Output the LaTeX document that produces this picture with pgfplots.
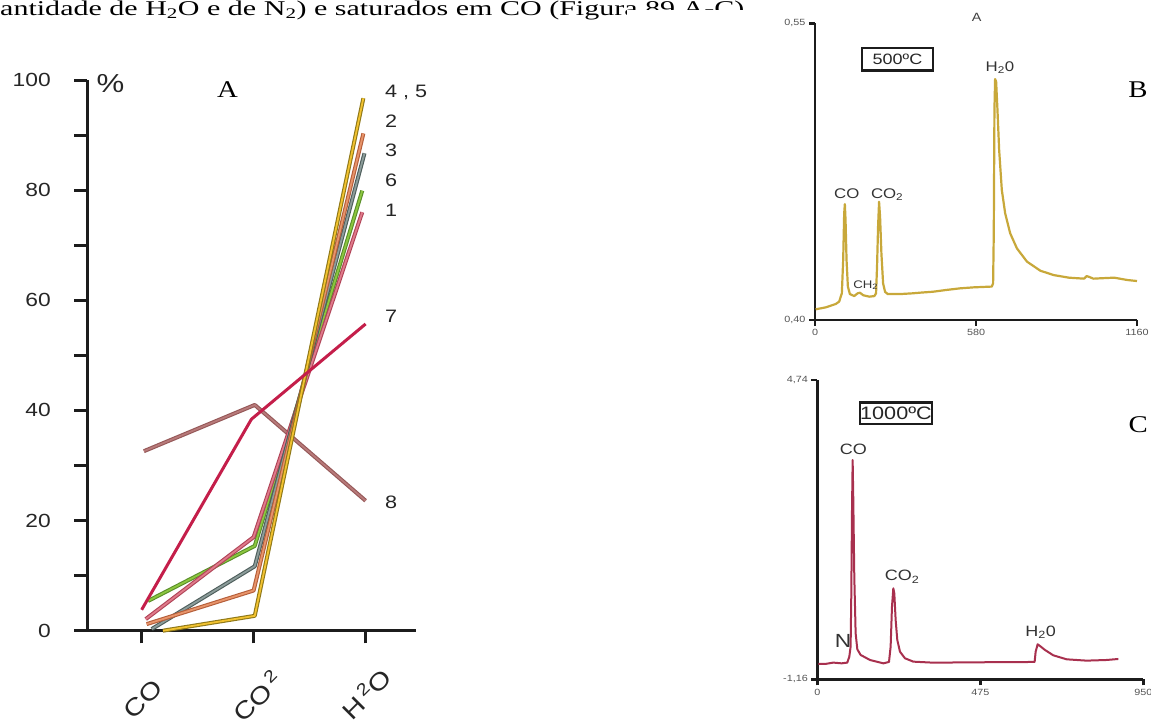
\documentclass[border=0pt]{standalone}
\usepackage{pgfplots}
\pgfplotsset{compat=1.18}
\usepackage{fontspec}
\setmainfont{Liberation Serif}
\newfontfamily\sansx[FakeStretch=1.2]{Liberation Sans}
\newfontfamily\serifx[FakeStretch=1.2]{Liberation Serif}
\newfontfamily\serifwide[FakeStretch=1.43]{Liberation Serif}
\newcommand{\fs}[1]{\fontsize{#1}{#1}\selectfont}

\definecolor{axblack}{HTML}{1C1C1C}
\definecolor{lblgray}{HTML}{555555}
% line colours (core / outline)
\definecolor{yelC}{HTML}{F2C230}\definecolor{yelO}{HTML}{8F7818}
\definecolor{oraC}{HTML}{E8946A}\definecolor{oraO}{HTML}{B45E3A}
\definecolor{gryC}{HTML}{8C9C9A}\definecolor{gryO}{HTML}{4E5E5C}
\definecolor{grnC}{HTML}{8CC63F}\definecolor{grnO}{HTML}{5A8F2A}
\definecolor{pnkC}{HTML}{E07A8A}\definecolor{pnkO}{HTML}{B04458}
\definecolor{brnC}{HTML}{B87A7A}\definecolor{brnO}{HTML}{955858}
\definecolor{crim}{HTML}{C41E4A}
\definecolor{goldB}{HTML}{C8A83A}
\definecolor{maroonC}{HTML}{A8304E}

\tikzset{duo/.style 2 args={draw=#1, line width=1.8pt, line join=round,
  preaction={draw=#2, line width=4pt, line join=round}}}

% fraction of each gas (%)
\pgfplotstableread{
x     y
0.19  0
1.01  2.7
1.98  96.7
}\tabFourFive
\pgfplotstableread{
x     y
0.045 1.2
1.00  7.3
1.98  90.3
}\tabTwo
\pgfplotstableread{
x     y
0.09  0.3
1.01  11.7
1.99  86.7
}\tabThree
\pgfplotstableread{
x     y
0.057 5.4
1.01  15.4
1.97  79.9
}\tabSix
\pgfplotstableread{
x     y
0.036 2.1
1.00  17.0
1.97  76.0
}\tabOne
\pgfplotstableread{
x     y
0.00  3.8
0.98  38.4
2.00  55.7
}\tabSeven
\pgfplotstableread{
x     y
0.02  32.6
1.01  41.0
2.00  23.6
}\tabEight

% chromatogram, 500 C
\pgfplotstableread{
t      s
2.4    0.4054
38.7   0.4064
74.9   0.4081
87.0   0.4093
96.7   0.4135
101.5  0.4303
105.1  0.4539
107.5  0.4586
110.0  0.4506
113.6  0.4303
118.4  0.4169
125.7  0.4131
141.4  0.4121
153.5  0.4135
161.9  0.4138
174.0  0.4125
195.7  0.4118
213.9  0.4121
219.9  0.4135
223.5  0.4270
227.2  0.4472
230.8  0.4598
234.4  0.4522
239.2  0.4337
245.3  0.4185
252.5  0.4142
262.2  0.4131
304.5  0.4131
352.8  0.4135
377.0  0.4138
425.3  0.4143
473.7  0.4152
522.0  0.4160
570.3  0.4165
636.8  0.4169
641.6  0.4185
644.0  0.4438
646.4  0.5062
648.8  0.5218
652.5  0.5205
657.3  0.5062
663.4  0.4859
673.0  0.4657
685.1  0.4539
703.2  0.4438
727.4  0.4362
763.7  0.4295
812.0  0.4249
860.3  0.4227
914.7  0.4214
969.1  0.4209
978.8  0.4222
990.9  0.4216
1002.9 0.4209
1029.5 0.4211
1077.8 0.4214
1126.1 0.4202
1160.0 0.4197
}\tabB

% chromatogram, 1000 C
\pgfplotstableread{
t      s
2.9    -0.858
22.3   -0.858
46.6   -0.831
70.9   -0.845
87.4   -0.831
93.3   -0.713
97.1   -0.516
99.1   0.535
101.1  2.178
103.0  3.163
104.9  2.374
107.8  0.864
111.7  -0.253
116.6  -0.569
126.3  -0.680
153.5  -0.779
192.3  -0.845
208.9  -0.818
213.7  -0.516
217.6  0.272
221.5  0.634
224.4  0.535
228.3  0.009
233.1  -0.385
240.9  -0.615
255.5  -0.746
279.8  -0.812
338.0  -0.832
454.6  -0.825
633.3  -0.818
636.3  -0.615
642.1  -0.470
648.9  -0.503
663.5  -0.582
687.7  -0.687
726.6  -0.766
784.9  -0.792
843.2  -0.779
877.2  -0.759
}\tabC

\begin{document}
\begin{tikzpicture}
\path[use as bounding box] (0pt,0pt) rectangle (1151pt,-723pt);

% running text above the figure
\node[anchor=base west, inner sep=0pt, font=\serifwide\fs{21}] at (0pt,-15pt)
  {antidade de H\textsubscript{2}O e de N\textsubscript{2}) e saturados em CO (Figura 89 A-C)};
\fill[white] (627pt,-10pt) rectangle (1151pt,-723pt);

% ---------------- panel A ----------------
\begin{axis}[
  at={(87pt,-630.7pt)}, anchor=south west,
  scale only axis, width=329pt, height=550.7pt,
  xmin=-0.488, xmax=2.45, ymin=0, ymax=100,
  axis lines*=left, clip=false,
  axis line style={line width=3pt, color=axblack},
  tick align=outside,
  major tick length=12.7pt, minor tick length=12.7pt,
  every tick/.style={line width=3pt, color=axblack},
  minor tick style={line width=3pt, color=axblack},
  xtick={0,1,2}, xticklabels={},
  ytick={0,20,...,100}, minor ytick={10,30,...,90},
  yticklabels={0,20,40,60,80,100},
  yticklabel style={font=\sansx\fs{19}, text=black!85, xshift=-20pt},
  /pgf/number format/assume math mode=true,
]
\addplot[duo={brnC}{brnO}] table {\tabEight};
\addplot[duo={grnC}{grnO}] table {\tabSix};
\addplot[duo={pnkC}{pnkO}] table {\tabOne};
\addplot[duo={gryC}{gryO}] table {\tabThree};
\addplot[duo={oraC}{oraO}] table {\tabTwo};
\addplot[duo={yelC}{yelO}] table {\tabFourFive};
\addplot[draw=crim, line width=3pt, line join=round] table {\tabSeven};

\node[rotate=45, font=\sansx\fs{24}, text=black!85] at (axis cs:0.012,-12.4) {CO};
\node[rotate=45, font=\sansx\fs{24}, text=black!85] at (axis cs:1.03,-11.8) {CO\,\textsuperscript{2}};
\node[rotate=45, font=\sansx\fs{24}, text=black!85] at (axis cs:2.0,-11.3) {H\,\textsuperscript{2}O};
\node[font=\sansx\fs{26}, text=black!85] at (axis cs:-0.279,99.4) {\%};
\node[font=\serifx\fs{24}] at (axis cs:0.766,98.2) {A};

\begin{scope}[every node/.style={anchor=west, inner sep=0pt, font=\sansx\fs{18}, text=black!85}]
\node at (axis cs:2.172,97.7) {4 , 5};
\node at (axis cs:2.172,92.6) {2};
\node at (axis cs:2.172,87.2) {3};
\node at (axis cs:2.172,81.8) {6};
\node at (axis cs:2.172,76.4) {1};
\node at (axis cs:2.172,57.0) {7};
\node at (axis cs:2.172,23.3) {8};
\end{scope}
\end{axis}

% ---------------- panel B ----------------
\begin{axis}[
  at={(815pt,-320pt)}, anchor=south west,
  scale only axis, width=322pt, height=296.7pt,
  xmin=0, xmax=1160, ymin=0.40, ymax=0.55,
  axis lines*=left, clip=false,
  axis line style={line width=2.5pt, color=axblack},
  tick align=outside, major tick length=6pt,
  every tick/.style={line width=2.5pt, color=axblack},
  xtick={0,580,1160}, xticklabels={0,580,1160},
  ytick={0.40,0.55}, yticklabels={{0,40},{0,55}},
  ticklabel style={font=\sansx\fs{9}, text=lblgray},
  /pgf/number format/assume math mode=true,
]
\addplot[draw=goldB, line width=2.2pt, line join=round] table {\tabB};
\begin{scope}[every node/.style={font=\sansx\fs{14}, text=black!80, inner sep=0pt}]
\node at (axis cs:114.7,0.4639) {CO};
\node[anchor=base west] at (axis cs:201,0.4615) {CO\textsubscript{2}};
\node[font=\sansx\fs{11}] at (axis cs:182.4,0.4177) {CH\textsubscript{2}};
\node[anchor=base west] at (axis cs:614,0.5255) {H\textsubscript{2}0};
\end{scope}
\node[draw=axblack, line width=2.5pt, minimum width=71pt, minimum height=22.7pt,
  inner sep=0pt, font=\sansx\fs{15}, text=black!85] at (axis cs:297.1,0.5318) {500ºC};
\node[font=\serifx\fs{24}] at (axis cs:1163.6,0.5163) {B};
\node[font=\sansx\fs{12}, text=black!75] at (axis cs:582.7,0.5532) {A};
\end{axis}

% ---------------- panel C ----------------
\begin{axis}[
  at={(817.3pt,-679.3pt)}, anchor=south west,
  scale only axis, width=326pt, height=299.3pt,
  xmin=0, xmax=950, ymin=-1.16, ymax=4.74,
  axis lines*=left, clip=false,
  axis line style={line width=2.5pt, color=axblack},
  tick align=outside, major tick length=6pt,
  every tick/.style={line width=2.5pt, color=axblack},
  xtick={0,475,950}, xticklabels={0,475,950},
  ytick={-1.16,4.74}, yticklabels={{-1,16},{4,74}},
  ticklabel style={font=\sansx\fs{9}, text=lblgray},
  /pgf/number format/assume math mode=true,
]
\addplot[draw=maroonC, line width=2pt, line join=round] table {\tabC};
\begin{scope}[every node/.style={font=\sansx\fs{15}, text=black!80, inner sep=0pt}]
\node at (axis cs:104.9,3.374) {CO};
\node[anchor=base west] at (axis cs:196,0.78) {CO\textsubscript{2}};
\node[anchor=base west] at (axis cs:606,-0.31) {H\textsubscript{2}0};
\node[font=\sansx\fs{19}] at (axis cs:74.9,-0.399) {N};
\end{scope}
\node[draw=axblack, line width=2.5pt, minimum width=71pt, minimum height=21.7pt,
  inner sep=0pt, font=\sansx\fs{18}, text=black!85] at (axis cs:229.3,4.083) {1000ºC};
\node[font=\serifx\fs{24}] at (axis cs:935.4,3.853) {C};
\end{axis}
\end{tikzpicture}
\end{document}
